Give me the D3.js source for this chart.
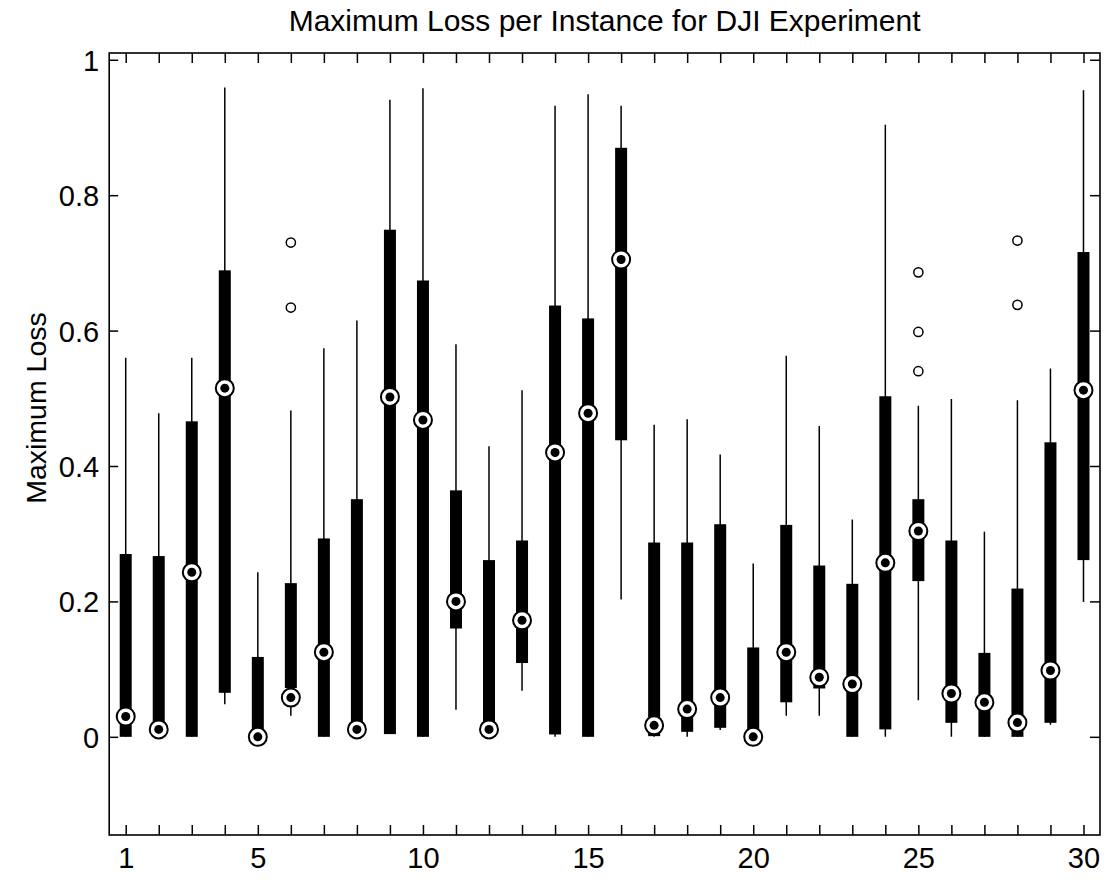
<!DOCTYPE html>
<html>
<head>
<meta charset="utf-8">
<script src="https://cdn.jsdelivr.net/npm/d3@7"></script>
<style>
  html, body { margin: 0; padding: 0; background: #fff; }
  svg { display: block; font-family: "Liberation Sans", Arial, Helvetica, sans-serif; }
</style>
</head>
<body>
<svg id="chart" width="1109" height="880"></svg>
<script>
// Instance numbers 1..30
const instances = d3.range(1, 31);
// Per-instance box statistics
const whiskerLow  = [0, 0, 0, 0.048, 0, 0.031, 0, 0, 0.004, 0, 0.04, 0, 0.068, 0, 0, 0.203, 0, 0, 0.01, 0, 0.031, 0.031, 0, 0, 0.054, 0, 0, 0, 0.018, 0.199];
const quart1      = [0, 0, 0, 0.065, 0, 0.072, 0, 0, 0.004, 0, 0.16, 0, 0.109, 0.0035, 0, 0.438, 0.001, 0.0074, 0.0133, 0, 0.051, 0.0714, 0, 0.011, 0.23, 0.0207, 0, 0, 0.0207, 0.261];
const medians     = [0.03, 0.011, 0.243, 0.515, 0, 0.058, 0.125, 0.011, 0.502, 0.468, 0.2, 0.011, 0.172, 0.42, 0.478, 0.705, 0.017, 0.041, 0.058, 0, 0.125, 0.088, 0.078, 0.257, 0.304, 0.064, 0.051, 0.021, 0.098, 0.512];
const quart3      = [0.27, 0.267, 0.466, 0.689, 0.118, 0.227, 0.293, 0.351, 0.749, 0.674, 0.364, 0.261, 0.29, 0.637, 0.618, 0.87, 0.287, 0.287, 0.314, 0.132, 0.313, 0.253, 0.226, 0.503, 0.351, 0.29, 0.124, 0.219, 0.435, 0.716];
const whiskerHigh = [0.56, 0.478, 0.56, 0.959, 0.243, 0.482, 0.574, 0.615, 0.941, 0.958, 0.58, 0.429, 0.512, 0.932, 0.949, 0.932, 0.461, 0.469, 0.417, 0.256, 0.563, 0.459, 0.321, 0.904, 0.489, 0.499, 0.303, 0.497, 0.544, 0.955];
// Outlying points: instance and value
const outlierInstance = [6, 6, 25, 25, 25, 28, 28];
const outlierValue    = [0.634, 0.730, 0.540, 0.598, 0.686, 0.638, 0.733];
// Axis ticks
const xTickLabels = [1, 5, 10, 15, 20, 25, 30];
const yTicks = [0, 0.2, 0.4, 0.6, 0.8, 1];

const svg = d3.select("#chart");
const plotL = 109.2, plotR = 1100, plotT = 53, plotB = 835;

const x = d3.scaleLinear().domain([0.5, 30.5]).range([plotL, plotR]);
const y = d3.scaleLinear().domain([-0.145, 1.01]).range([plotB, plotT]);

const fontSize = 29;

// Title
svg.append("text")
  .attr("x", (plotL + plotR) / 2)
  .attr("y", 31)
  .attr("text-anchor", "middle")
  .attr("font-size", 30)
  .text("Maximum Loss per Instance for DJI Experiment");

// Y label
svg.append("text")
  .attr("transform", `translate(46,408) rotate(-90)`)
  .attr("text-anchor", "middle")
  .attr("font-size", 28.5)
  .text("Maximum Loss");

// Axes with inward ticks
const xTickFmt = d => xTickLabels.includes(d) ? String(d) : "";
const gxB = svg.append("g").attr("transform", `translate(0,${plotB})`)
  .call(d3.axisBottom(x).tickValues(instances).tickSizeInner(-10).tickSizeOuter(0).tickPadding(12).tickFormat(xTickFmt));
const gxT = svg.append("g").attr("transform", `translate(0,${plotT})`)
  .call(d3.axisTop(x).tickValues(instances).tickSizeInner(-10).tickSizeOuter(0).tickFormat(""));
const gyL = svg.append("g").attr("transform", `translate(${plotL},0)`)
  .call(d3.axisLeft(y).tickValues(yTicks).tickSizeInner(-9).tickSizeOuter(0).tickPadding(10).tickFormat(d3.format("~g")));
const gyR = svg.append("g").attr("transform", `translate(${plotR},0)`)
  .call(d3.axisRight(y).tickValues(yTicks).tickSizeInner(-10).tickSizeOuter(0).tickFormat(""));

[gxB, gxT, gyL, gyR].forEach(g => {
  g.select(".domain").remove();
  g.selectAll(".tick line").attr("stroke", "#000").attr("stroke-width", 1.5);
  g.selectAll(".tick text").attr("fill", "#000").attr("font-size", fontSize)
    .attr("font-family", '"Liberation Sans", Arial, sans-serif');
});
gyL.selectAll(".tick text").attr("dy", "0.36em");

// Axes frame
svg.append("rect")
  .attr("x", plotL).attr("y", plotT)
  .attr("width", plotR - plotL).attr("height", plotB - plotT)
  .attr("fill", "none").attr("stroke", "#000").attr("stroke-width", 1.6);

const rows = instances.map((k, i) => ({
  k, lo: whiskerLow[i], q1: quart1[i], med: medians[i], q3: quart3[i], hi: whiskerHigh[i]
}));

const boxes = svg.append("g");
// Whiskers
boxes.selectAll("line.whisker").data(rows).join("line")
  .attr("class", "whisker")
  .attr("x1", d => x(d.k)).attr("x2", d => x(d.k))
  .attr("y1", d => y(d.lo)).attr("y2", d => y(d.hi))
  .attr("stroke", "#000").attr("stroke-width", 1.5);
// Boxes
const boxW = 12;
boxes.selectAll("rect.box").data(rows).join("rect")
  .attr("class", "box")
  .attr("x", d => x(d.k) - boxW / 2)
  .attr("width", boxW)
  .attr("y", d => y(d.q3))
  .attr("height", d => Math.max(1, y(d.q1) - y(d.q3)))
  .attr("fill", "#000");
// Median markers
boxes.selectAll("circle.med-ring").data(rows).join("circle")
  .attr("class", "med-ring")
  .attr("cx", d => x(d.k)).attr("cy", d => y(d.med))
  .attr("r", 9).attr("fill", "#fff").attr("stroke", "#000").attr("stroke-width", 2);
boxes.selectAll("circle.med-dot").data(rows).join("circle")
  .attr("class", "med-dot")
  .attr("cx", d => x(d.k)).attr("cy", d => y(d.med))
  .attr("r", 4.5).attr("fill", "#000");

// Outliers
boxes.selectAll("circle.outlier").data(outlierValue.map((v, i) => ({k: outlierInstance[i], v})))
  .join("circle")
  .attr("class", "outlier")
  .attr("cx", d => x(d.k)).attr("cy", d => y(d.v))
  .attr("r", 4.6).attr("fill", "none").attr("stroke", "#000").attr("stroke-width", 1.5);
</script>
</body>
</html>
